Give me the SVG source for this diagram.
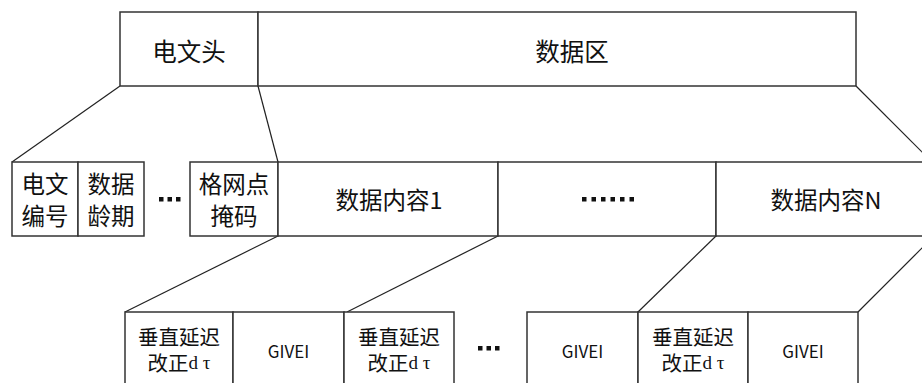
<svg xmlns="http://www.w3.org/2000/svg" width="922" height="383" viewBox="0 0 922 383">
<style>
.box{fill:#fff;stroke:#333;stroke-width:1.5}
.t{font-family:"Noto Sans CJK SC","Liberation Sans",sans-serif;fill:#111;text-anchor:middle;dominant-baseline:central}
.t25{font-size:24.5px}
.t22{font-size:23.5px}
.t19{font-size:20.5px}
.g{font-size:17px}
.sf{font-family:"Liberation Serif",serif;font-size:19px}
.dot{fill:#111}
.con{stroke:#222;stroke-width:1.2;fill:none}
</style>
<rect width="922" height="383" fill="#fff"/>
<g id="connectors">
<line class="con" x1="120" y1="86" x2="12" y2="162"/>
<line class="con" x1="258" y1="86" x2="278" y2="162"/>
<line class="con" x1="856" y1="86" x2="932" y2="162"/>
<line class="con" x1="278" y1="236" x2="125" y2="312"/>
<line class="con" x1="498" y1="236" x2="347" y2="312"/>
<line class="con" x1="716" y1="236" x2="638" y2="312"/>
<line class="con" x1="934" y1="236" x2="858" y2="312"/>
</g>
<g id="header"><rect class="box" x="120" y="12" width="138" height="74"/><text class="t t25" x="189" y="50">电文头</text></g>
<g id="dataarea"><rect class="box" x="258" y="12" width="598" height="74"/><text class="t t25" x="572" y="50">数据区</text></g>

<g id="msgno"><rect class="box" x="12" y="162" width="66" height="74"/><text class="t t22" x="45" y="183">电文</text><text class="t t22" x="45" y="215">编号</text></g>
<g id="age"><rect class="box" x="78" y="162" width="66" height="74"/><text class="t t22" x="111" y="183">数据</text><text class="t t22" x="111" y="215">龄期</text></g>
<g id="dots1"><rect class="dot" x="159" y="197" width="4.5" height="4.5"/><rect class="dot" x="167.5" y="197" width="4.5" height="4.5"/><rect class="dot" x="176" y="197" width="4.5" height="4.5"/></g>
<g id="mask"><rect class="box" x="190" y="162" width="88" height="74"/><text class="t t22" x="234" y="183">格网点</text><text class="t t22" x="234" y="215">掩码</text></g>
<g id="content1"><rect class="box" x="278" y="162" width="220" height="74"/><text class="t t22" x="389" y="199">数据内容1</text></g>
<g id="contentdots"><rect class="box" x="498" y="162" width="218" height="74"/>
<rect class="dot" x="582" y="197" width="4.5" height="4.5"/><rect class="dot" x="591.5" y="197" width="4.5" height="4.5"/><rect class="dot" x="601" y="197" width="4.5" height="4.5"/><rect class="dot" x="610.5" y="197" width="4.5" height="4.5"/><rect class="dot" x="620" y="197" width="4.5" height="4.5"/><rect class="dot" x="629.5" y="197" width="4.5" height="4.5"/></g>
<g id="contentN"><rect class="box" x="716" y="162" width="218" height="74"/><text class="t t22" x="826" y="199">数据内容N</text></g>

<g id="vd1"><rect class="box" x="125" y="312" width="108" height="100"/><text class="t t19" x="179" y="336">垂直延迟</text><text class="t t19" x="179" y="362">改正<tspan class="sf">d τ</tspan></text></g>
<g id="givei1"><rect class="box" x="233" y="312" width="111" height="100"/><text class="t g" x="288.5" y="350">GIVEI</text></g>
<g id="vd2"><rect class="box" x="344" y="312" width="110" height="100"/><text class="t t19" x="399" y="336">垂直延迟</text><text class="t t19" x="399" y="362">改正<tspan class="sf">d τ</tspan></text></g>
<g id="dots2"><rect class="dot" x="478" y="346" width="4.5" height="4.5"/><rect class="dot" x="486.5" y="346" width="4.5" height="4.5"/><rect class="dot" x="495" y="346" width="4.5" height="4.5"/></g>
<g id="givei2"><rect class="box" x="527" y="312" width="111" height="100"/><text class="t g" x="582.5" y="350">GIVEI</text></g>
<g id="vd3"><rect class="box" x="638" y="312" width="110" height="100"/><text class="t t19" x="693" y="336">垂直延迟</text><text class="t t19" x="693" y="362">改正<tspan class="sf">d τ</tspan></text></g>
<g id="givei3"><rect class="box" x="748" y="312" width="110" height="100"/><text class="t g" x="803" y="350">GIVEI</text></g>
</svg>
